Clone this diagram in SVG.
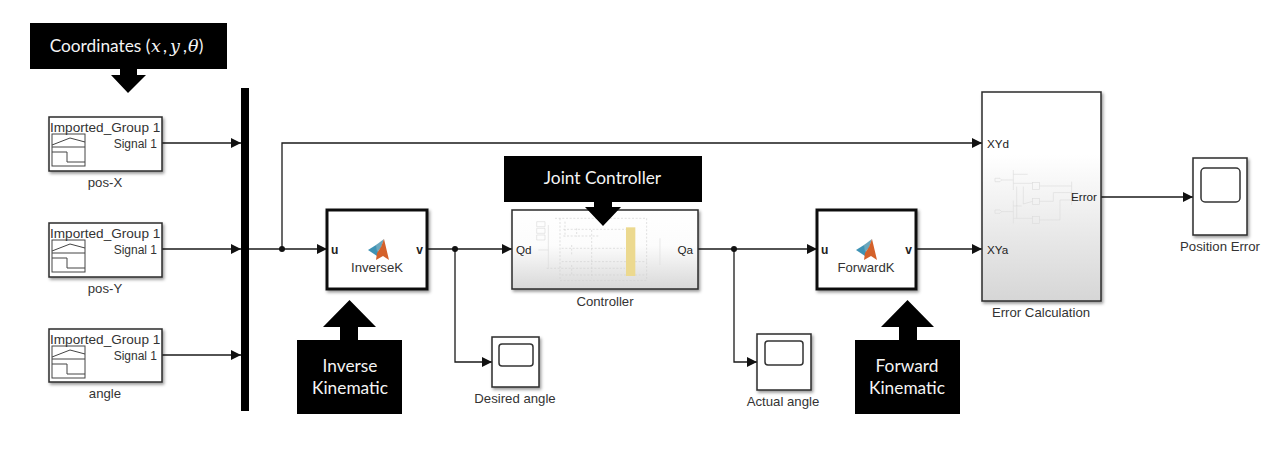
<svg xmlns="http://www.w3.org/2000/svg" width="1272" height="455" viewBox="0 0 1272 455">
<style>
text{font-family:"Liberation Sans",Arial,sans-serif;fill:#333;font-size:13.2px}
.c{text-anchor:middle}
.e{text-anchor:end}
.src{font-size:13.6px}
.sig{font-size:12px}
.port{font-size:11.7px;fill:#222}
.pb{font-size:12px;fill:#222;font-weight:bold}
.lab{font-family:Lato,"Open Sans",sans-serif;font-size:17.3px;fill:#f4f4f4;text-anchor:middle}
.m{font-family:"DejaVu Serif","Liberation Serif",serif;font-style:italic;font-size:17.5px;fill:#f4f4f4}
.blk{fill:#fff;stroke:#2b2b2b;stroke-width:1.5;filter:url(#sh)}
.thick{stroke:#111;stroke-width:3}
.arrow{fill:none;stroke:#1a1a1a;stroke-width:1.3;marker-end:url(#ah)}
.scr{fill:#fff;stroke:#333;stroke-width:1.5}
.ic{fill:none;stroke:#444;stroke-width:1}
.faint{fill:none;stroke:#ddd;stroke-width:2}
.faint2{fill:none;stroke:#d2d2d2;stroke-width:2;stroke-dasharray:6 5}
</style>
<defs>
<marker id="ah" markerUnits="userSpaceOnUse" markerWidth="11" markerHeight="10" refX="10" refY="5" orient="auto"><path d="M0 0L10 5L0 10Z" fill="#111"/></marker>
<filter id="sh" x="-10%" y="-10%" width="125%" height="125%"><feDropShadow dx="1.5" dy="2" stdDeviation="1.5" flood-color="#000" flood-opacity=".4"/></filter>
<linearGradient id="g1" x1="0" y1="0" x2="0" y2="1"><stop offset="0" stop-color="#fff"/><stop offset=".45" stop-color="#fcfcfc"/><stop offset="1" stop-color="#d8d8d8"/></linearGradient>
<linearGradient id="g2" x1="0" y1="0" x2="0" y2="1"><stop offset="0" stop-color="#fff"/><stop offset=".3" stop-color="#fff"/><stop offset="1" stop-color="#d6d6d6"/></linearGradient>
<g id="wave"><rect x="0" y="0" width="33" height="32" class="ic"/><path class="ic" d="M0 11L18 4L33 8M0 13H33M0 18H15V28H33"/></g>
<g id="logo"><path d="M0 11L8 6L12 5L9 17Z" fill="#3f93b5"/><path d="M8 6L16 0L13 9L9 13Z" fill="#6aa7bd"/><path d="M16 0L21 21L15 17L8 21L9 14L13 8Z" fill="#d4612a"/></g>
</defs>
<rect width="1272" height="455" fill="#fff"/>

<g id="connectors">
<path class="arrow" d="M162 143H241"/>
<path class="arrow" d="M162 249H241"/>
<path class="arrow" d="M162 355H241"/>
<path class="arrow" d="M249 249H327"/>
<path class="arrow" d="M282 249V143H982"/>
<path class="arrow" d="M427 249H512"/>
<path class="arrow" d="M455 249V362H492"/>
<path class="arrow" d="M698 249H817"/>
<path class="arrow" d="M734 249V362H757"/>
<path class="arrow" d="M916 249H982"/>
<path class="arrow" d="M1101 197H1193"/>
<circle cx="282" cy="249" r="3" fill="#111"/>
<circle cx="455" cy="249" r="3" fill="#111"/>
<circle cx="734" cy="249" r="3" fill="#111"/>
</g>

<g id="bus"><rect x="241" y="88" width="8" height="323" fill="#000"/></g>

<g id="pos-X">
<rect class="blk" x="49" y="117" width="113" height="54"/>
<use href="#wave" x="52" y="134"/>
<text class="src" x="50" y="132">Imported_Group 1</text>
<text class="sig e" x="157" y="148">Signal 1</text>
<text class="c" x="105" y="187">pos-X</text>
</g>
<g id="pos-Y">
<rect class="blk" x="49" y="223" width="113" height="54"/>
<use href="#wave" x="52" y="240"/>
<text class="src" x="50" y="238">Imported_Group 1</text>
<text class="sig e" x="157" y="254">Signal 1</text>
<text class="c" x="105" y="293">pos-Y</text>
</g>
<g id="angle">
<rect class="blk" x="49" y="329" width="113" height="53"/>
<use href="#wave" x="52" y="346"/>
<text class="src" x="50" y="344">Imported_Group 1</text>
<text class="sig e" x="157" y="360">Signal 1</text>
<text class="c" x="105" y="398">angle</text>
</g>

<g id="inverse-k">
<rect class="blk thick" x="327" y="210" width="100" height="79"/>
<use href="#logo" x="368" y="239"/>
<text class="pb" x="331" y="254">u</text>
<text class="pb e" x="423" y="254">v</text>
<text class="c" x="377" y="272">InverseK</text>
</g>

<g id="controller">
<rect class="blk" x="512" y="210" width="186" height="79" style="fill:url(#g1)"/>
<g transform="translate(500 150) scale(.3333)">
<path class="faint" d="M110 215H135V230H110ZM110 235H135V250H110ZM110 255H135V270H110ZM115 300H145M145 225V355M480 265V345"/>
<path class="faint2" d="M165 205H440M190 238H380M190 258H300M185 295H375M185 335H440M140 355H375M185 375H440M180 392H440M180 205V392M440 205V392M195 215V260M230 235V260M215 285V315M215 345V375M275 240V385"/>
<rect x="378" y="232" width="28" height="146" fill="#ecd98f" stroke="none"/>
</g>
<text class="port" x="516" y="254">Qd</text>
<text class="port e" x="693" y="254">Qa</text>
<text class="c" x="605" y="306">Controller</text>
</g>

<g id="desired-angle">
<rect class="blk" x="492" y="337" width="47" height="50"/>
<rect class="scr" x="499" y="344" width="34" height="22" rx="3"/>
<text class="c" x="515" y="403">Desired angle</text>
</g>

<g id="forward-k">
<rect class="blk thick" x="817" y="210" width="99" height="79"/>
<use href="#logo" x="856" y="239"/>
<text class="pb" x="821" y="254">u</text>
<text class="pb e" x="912" y="254">v</text>
<text class="c" x="866" y="272">ForwardK</text>
</g>

<g id="actual-angle">
<rect class="blk" x="757" y="334" width="54" height="56"/>
<rect class="scr" x="765" y="341" width="38" height="24" rx="3"/>
<text class="c" x="783" y="406">Actual angle</text>
</g>

<g id="error-calculation">
<rect class="blk" x="982" y="92" width="119" height="209" style="fill:url(#g2)"/>
<g transform="translate(960 80) scale(.3333)">
<path class="faint" d="M105 295H120L125 300L120 305H105ZM105 390H120L125 395L120 400H105ZM125 300H160M125 395H160M160 270V330M160 362V430M160 283H203M160 310H218M170 320V378M190 320V372L218 364M160 378H185M160 415H218M170 375V415M238 318H335M238 364H280V338H335M238 420H300V360H335M335 305V375"/>
<rect class="faint" x="218" y="308" width="20" height="20"/><rect class="faint" x="218" y="355" width="20" height="18"/><rect class="faint" x="218" y="410" width="20" height="20"/>
</g>
<text class="port" x="987" y="148">XYd</text>
<text class="port" x="987" y="254">XYa</text>
<text class="port e" x="1097" y="201">Error</text>
<text class="c" x="1041" y="317">Error Calculation</text>
</g>

<g id="position-error">
<rect class="blk" x="1193" y="158" width="54" height="77"/>
<rect class="scr" x="1201" y="168" width="39" height="34" rx="4"/>
<text class="c" x="1220" y="251">Position Error</text>
</g>

<g id="label-coordinates">
<rect x="30" y="23" width="197" height="46" fill="#000"/>
<path d="M120 69H137V75H146L128 93L111 75H120Z" fill="#000"/>
<text class="lab" x="100" y="52">Coordinates (</text>
<text class="m" x="151" y="52">x</text>
<text class="lab" x="165" y="52">,</text>
<text class="m" x="170" y="52">y</text>
<text class="lab" x="185" y="52">,</text>
<text class="m" x="188" y="52">θ</text>
<text class="lab" x="201" y="52">)</text>
</g>
<g id="label-joint-controller">
<rect x="504" y="156" width="198" height="46" fill="#000"/>
<path d="M594 202H612V207H621L603 226L585 207H594Z" fill="#000"/>
<text class="lab" x="602.500" y="184">Joint Controller</text>
</g>
<g id="label-inverse-kinematic">
<rect x="297" y="340" width="105" height="74" fill="#000"/>
<path d="M349.500 300L376 327H358V340H340V327H323Z" fill="#000"/>
<text class="lab" x="350" y="372">Inverse</text>
<text class="lab" x="350" y="394">Kinematic</text>
</g>
<g id="label-forward-kinematic">
<rect x="855" y="340" width="105" height="74" fill="#000"/>
<path d="M907.500 300L934 327H917V340H899V327H881Z" fill="#000"/>
<text class="lab" x="907" y="372">Forward</text>
<text class="lab" x="907" y="394">Kinematic</text>
</g>
</svg>
